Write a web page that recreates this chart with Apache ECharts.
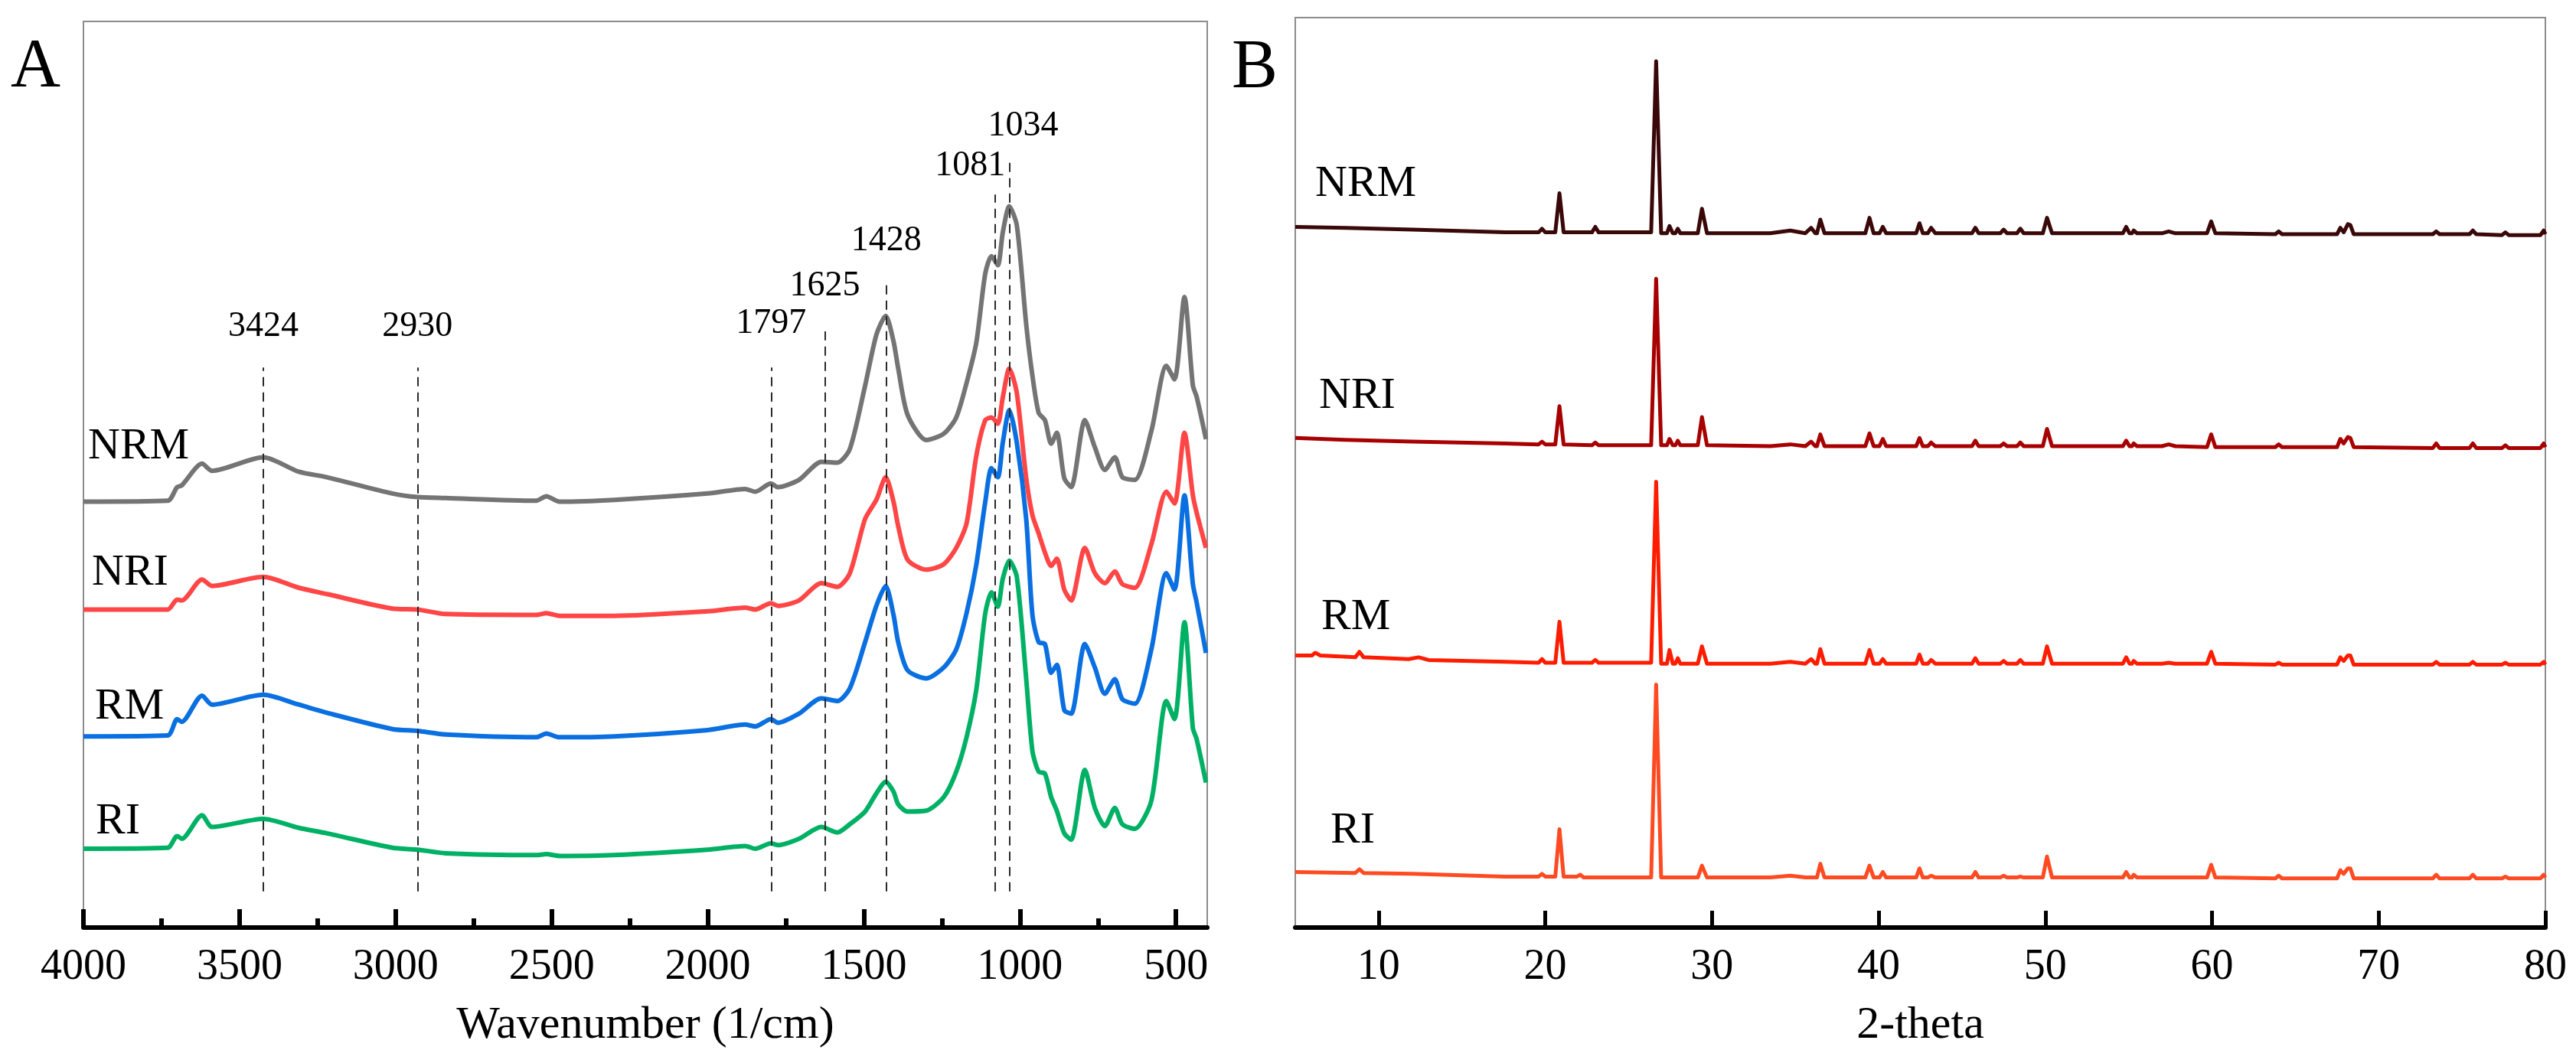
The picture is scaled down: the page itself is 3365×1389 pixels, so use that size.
<!DOCTYPE html>
<html>
<head>
<meta charset="utf-8">
<title>FTIR / XRD</title>
<script src="https://cdn.jsdelivr.net/npm/echarts/dist/echarts.min.js"></script>
<style>
  html, body { margin: 0; padding: 0; background: #fff; }
  #chart { width: 3365px; height: 1389px; }
</style>
</head>
<body>
<div id="chart"></div>
<script>
// ---- Panel A: FTIR, wavenumber (1/cm) and stacked absorbance (a.u.) ----
let ftirWavenumber = [4000, 3730, 3700, 3685, 3620, 3588, 3424, 3310, 3220, 3010, 2930, 2840, 2550, 2517, 2475, 2300,
  2000, 1880, 1848, 1798, 1775, 1708, 1636, 1585, 1545, 1496, 1460, 1430, 1405, 1390, 1360, 1300, 1244, 1204, 1171,
  1140, 1111, 1091, 1071, 1055, 1034, 1010, 980, 960, 940, 920, 900, 882, 858, 836, 792, 760, 728, 696, 672, 632,
  579, 531, 505, 473, 446, 434, 404]
let ftirNRM = [47.0, 47.1, 48.6, 48.8, 51.2, 50.4, 51.9, 50.3, 49.7, 47.9, 47.5, 47.4, 47.1, 47.6, 47.0, 47.2,
  47.9, 48.4, 48.1, 49.0, 48.6, 49.4, 51.4, 51.3, 52.8, 59.8, 65.4, 67.5, 64.7, 61.7, 56.6, 53.8, 54.5, 56.3, 60.1,
  64.5, 72.2, 74.1, 73.1, 76.7, 79.6, 77.5, 66.6, 60.9, 56.8, 56.0, 53.4, 54.6, 49.6, 48.6, 56.0, 53.0, 50.5, 51.9, 49.7, 49.4,
  54.8, 62.0, 60.5, 69.6, 59.8, 58.6, 53.9]
let ftirNRI = [35.1, 35.1, 36.2, 36.1, 38.4, 37.7, 38.7, 37.5, 36.8, 35.2, 35.1, 34.6, 34.5, 34.7, 34.4, 34.4,
  34.9, 35.3, 35.1, 35.8, 35.5, 36.1, 38.0, 37.6, 39.1, 45.1, 47.2, 49.7, 47.0, 44.3, 40.6, 39.5, 40.1, 41.9, 44.6,
  52.0, 56.0, 56.3, 55.6, 58.5, 61.7, 59.0, 49.6, 45.5, 43.5, 41.4, 39.9, 40.7, 37.3, 36.1, 41.9, 39.1, 38.0, 39.3, 37.9, 37.5,
  42.3, 48.1, 46.8, 54.6, 47.7, 45.8, 41.9]
let ftirRM = [21.1, 21.2, 23.0, 22.7, 25.6, 24.6, 25.7, 24.6, 23.7, 21.9, 21.7, 21.3, 21.0, 21.4, 21.0, 21.1,
  21.8, 22.4, 22.2, 23.0, 22.6, 23.6, 25.3, 25.0, 26.4, 31.5, 35.5, 37.7, 34.5, 31.5, 28.4, 27.5, 28.7, 30.7, 34.7,
  40.0, 47.0, 50.7, 49.7, 53.5, 57.1, 53.5, 45.1, 34.5, 31.5, 31.3, 28.1, 29.0, 24.0, 23.6, 31.3, 28.7, 25.8, 27.4, 25.2, 24.7,
  30.7, 39.1, 37.3, 47.7, 37.9, 35.9, 30.3]
let ftirRI = [8.7, 8.8, 10.1, 9.8, 12.4, 11.1, 12.0, 11.0, 10.4, 8.8, 8.6, 8.2, 8.0, 8.1, 7.9, 8.0,
  8.6, 9.0, 8.7, 9.3, 9.1, 9.8, 11.1, 10.5, 11.4, 12.8, 14.8, 16.1, 15.0, 13.6, 12.8, 12.9, 14.4, 17.2, 21.0,
  26.2, 34.7, 37.0, 35.4, 38.5, 40.5, 38.7, 27.5, 19.5, 17.2, 17.0, 14.4, 12.9, 10.4, 9.7, 17.4, 13.2, 11.2, 13.2, 11.4, 10.9,
  14.0, 25.0, 23.0, 33.7, 22.0, 20.8, 16.0]

// marked bands: dashed guide from bandBottom up to bandTop
let bandWavenumber = [3424, 2930, 1797, 1625, 1428, 1081, 1034]
let bandTop = [61.8, 61.8, 61.8, 65.8, 71.5, 80.9, 84.8]
let bandBottom = 4.0

// ---- Panel B: XRD, [2-theta, stacked intensity (a.u.)] ----
let xrdNRM = [[5, 77.0], [8, 76.9], [12, 76.7], [17.6, 76.4], [19.6, 76.4], [19.8, 76.8], [20.0, 76.4], [20.6, 76.4],
  [20.85, 80.7], [21.1, 76.4], [22.8, 76.4], [23.0, 77.0], [23.2, 76.4], [26.35, 76.4], [26.65, 95.2], [26.95, 76.3],
  [27.3, 76.3], [27.45, 77.1], [27.65, 76.3], [27.8, 76.3], [27.95, 76.8], [28.1, 76.3], [29.15, 76.3], [29.4, 79.0],
  [29.7, 76.3], [33.5, 76.3], [34.7, 76.6], [35.6, 76.3], [35.95, 76.9], [36.2, 76.3], [36.3, 76.3], [36.5, 77.8],
  [36.75, 76.3], [39.2, 76.3], [39.45, 78.0], [39.7, 76.3], [40.05, 76.3], [40.25, 77.0], [40.45, 76.3], [42.25, 76.3],
  [42.45, 77.4], [42.65, 76.3], [42.95, 76.3], [43.15, 76.9], [43.4, 76.3], [45.6, 76.3], [45.8, 76.9], [46.0, 76.3],
  [47.3, 76.3], [47.5, 76.7], [47.7, 76.3], [48.3, 76.3], [48.5, 76.8], [48.7, 76.3], [49.85, 76.3], [50.1, 78.0],
  [50.4, 76.3], [54.65, 76.3], [54.85, 77.0], [55.05, 76.3], [55.2, 76.3], [55.3, 76.6], [55.5, 76.3], [57.0, 76.3],
  [57.4, 76.5], [57.8, 76.3], [59.7, 76.3], [59.95, 77.6], [60.2, 76.3], [63.8, 76.2], [64.0, 76.5], [64.2, 76.2],
  [67.5, 76.2], [67.7, 76.9], [67.9, 76.4], [68.15, 77.3], [68.3, 77.2], [68.5, 76.2], [73.25, 76.2], [73.45, 76.5],
  [73.65, 76.2], [75.45, 76.2], [75.65, 76.6], [75.85, 76.2], [77.4, 76.1], [77.6, 76.4], [77.8, 76.1], [79.7, 76.1],
  [79.9, 76.6], [80, 76.2]]
let xrdNRI = [[5, 53.8], [8, 53.6], [12, 53.4], [17.6, 53.2], [19.6, 53.1], [19.8, 53.4], [20.0, 53.1], [20.6, 53.1],
  [20.85, 57.3], [21.1, 53.1], [22.8, 53.0], [23.0, 53.3], [23.2, 53.0], [26.35, 53.0], [26.65, 71.3], [26.95, 53.0],
  [27.3, 53.0], [27.45, 53.7], [27.65, 53.0], [27.8, 53.0], [27.95, 53.5], [28.1, 53.0], [29.15, 53.0], [29.4, 56.1],
  [29.7, 53.0], [33.5, 52.9], [34.7, 53.1], [35.6, 52.9], [35.95, 53.4], [36.2, 52.9], [36.3, 52.9], [36.5, 54.2],
  [36.75, 52.9], [39.2, 52.9], [39.45, 54.3], [39.7, 52.9], [40.05, 52.9], [40.25, 53.7], [40.45, 52.9], [42.25, 52.9],
  [42.45, 53.8], [42.65, 52.9], [42.95, 52.9], [43.15, 53.3], [43.4, 52.9], [45.6, 52.9], [45.8, 53.5], [46.0, 52.9],
  [47.3, 52.9], [47.5, 53.2], [47.7, 52.9], [48.3, 52.9], [48.5, 53.3], [48.7, 52.9], [49.85, 52.9], [50.1, 54.8],
  [50.4, 52.9], [54.65, 52.9], [54.85, 53.5], [55.05, 52.9], [55.2, 52.9], [55.3, 53.2], [55.5, 52.9], [57.0, 52.9],
  [57.4, 53.1], [57.8, 52.9], [59.7, 52.8], [59.95, 54.2], [60.2, 52.8], [63.8, 52.8], [64.0, 53.1], [64.2, 52.8],
  [67.5, 52.8], [67.7, 53.7], [67.9, 53.2], [68.15, 53.9], [68.3, 53.8], [68.5, 52.8], [73.25, 52.7], [73.45, 53.2],
  [73.65, 52.7], [75.45, 52.7], [75.65, 53.2], [75.85, 52.7], [77.4, 52.7], [77.6, 53.0], [77.8, 52.7], [79.7, 52.7],
  [79.9, 53.2], [80, 52.8]]
let xrdRM = [[5, 29.9], [6.0, 29.9], [6.2, 30.2], [6.5, 29.9], [8.6, 29.7], [8.85, 30.3], [9.1, 29.7], [11.8, 29.5],
  [12.4, 29.7], [13.0, 29.4], [17.6, 29.2], [19.6, 29.1], [19.8, 29.5], [20.0, 29.1], [20.6, 29.1], [20.85, 33.6],
  [21.1, 29.1], [22.8, 29.1], [23.0, 29.4], [23.2, 29.1], [26.35, 29.1], [26.65, 49.0], [26.95, 29.0], [27.3, 29.0],
  [27.45, 30.5], [27.65, 29.0], [27.8, 29.0], [27.95, 29.6], [28.1, 29.0], [29.15, 29.0], [29.4, 30.9], [29.7, 29.0],
  [33.5, 29.0], [34.7, 29.2], [35.6, 29.0], [35.95, 29.5], [36.2, 29.0], [36.3, 29.0], [36.5, 30.6], [36.75, 29.0],
  [39.2, 29.0], [39.45, 30.5], [39.7, 29.0], [40.05, 29.0], [40.25, 29.5], [40.45, 29.0], [42.25, 29.0], [42.45, 30.0],
  [42.65, 29.0], [42.95, 29.0], [43.15, 29.4], [43.4, 29.0], [45.6, 29.0], [45.8, 29.6], [46.0, 29.0], [47.3, 29.0],
  [47.5, 29.3], [47.7, 29.0], [48.3, 29.0], [48.5, 29.4], [48.7, 29.0], [49.85, 29.0], [50.1, 30.9], [50.4, 29.0],
  [54.65, 29.0], [54.85, 29.7], [55.05, 29.0], [55.2, 29.0], [55.3, 29.3], [55.5, 29.0], [57.0, 29.0], [57.4, 29.1],
  [57.8, 29.0], [59.7, 29.0], [59.95, 30.3], [60.2, 29.0], [63.8, 28.9], [64.0, 29.1], [64.2, 28.9], [67.5, 28.9],
  [67.7, 29.7], [67.9, 29.3], [68.15, 29.9], [68.3, 29.9], [68.5, 28.9], [73.25, 28.9], [73.45, 29.2], [73.65, 28.9],
  [75.45, 28.9], [75.65, 29.2], [75.85, 28.9], [77.4, 28.9], [77.6, 29.1], [77.8, 28.9], [79.7, 28.9], [79.9, 29.2],
  [80, 28.9]]
let xrdRI = [[5, 6.1], [8.6, 6.0], [8.85, 6.4], [9.1, 6.0], [12, 5.9], [17.6, 5.6], [19.6, 5.6], [19.8, 5.9],
  [20.0, 5.6], [20.6, 5.6], [20.85, 10.8], [21.1, 5.6], [21.9, 5.6], [22.1, 5.8], [22.3, 5.5], [26.35, 5.5],
  [26.65, 26.7], [26.95, 5.5], [29.15, 5.5], [29.4, 6.8], [29.7, 5.5], [33.5, 5.5], [34.7, 5.7], [35.6, 5.5],
  [36.3, 5.5], [36.5, 7.0], [36.75, 5.5], [39.2, 5.5], [39.45, 6.8], [39.7, 5.5], [40.05, 5.5], [40.25, 6.1],
  [40.45, 5.5], [42.25, 5.5], [42.45, 6.5], [42.65, 5.5], [42.95, 5.5], [43.15, 5.7], [43.4, 5.5], [45.6, 5.5],
  [45.8, 6.1], [46.0, 5.5], [47.3, 5.5], [47.5, 5.7], [47.7, 5.5], [48.3, 5.5], [48.5, 5.6], [48.7, 5.5],
  [49.85, 5.5], [50.1, 7.8], [50.4, 5.5], [54.65, 5.5], [54.85, 6.1], [55.05, 5.5], [55.2, 5.5], [55.3, 5.8],
  [55.5, 5.5], [59.7, 5.5], [59.95, 6.9], [60.2, 5.5], [63.8, 5.4], [64.0, 5.7], [64.2, 5.4], [67.5, 5.4],
  [67.7, 6.3], [67.9, 5.9], [68.15, 6.5], [68.3, 6.5], [68.5, 5.4], [73.25, 5.4], [73.45, 5.8], [73.65, 5.4],
  [75.45, 5.4], [75.65, 5.8], [75.85, 5.4], [77.4, 5.4], [77.6, 5.6], [77.8, 5.4], [79.7, 5.4], [79.9, 5.8], [80, 5.5]]

let ftirMajorTicks = [500, 1000, 1500, 2000, 2500, 3000, 3500, 4000]
let ftirMinorTicks = [750, 1250, 1750, 2250, 2750, 3250, 3750]
let xrdTicks = [10, 20, 30, 40, 50, 60, 70, 80]

let serif = '"Liberation Serif", "Times New Roman", "DejaVu Serif", serif'
let ftirColors = { NRM: '#747474', NRI: '#ff4646', RM: '#0a6fe0', RI: '#00b165' }
let xrdColors = { NRM: '#3a0808', NRI: '#a80000', RM: '#ff1c00', RI: '#ff4a22' }

function pairs(xs, ys) {
  return xs.map((x, i) => [x, ys[i]])
}

function ftirSeries(name, values, extra) {
  let s = {
    name: name,
    type: 'line',
    xAxisIndex: 0,
    yAxisIndex: 0,
    data: pairs(ftirWavenumber, values),
    showSymbol: false,
    smooth: 0.25,
    lineStyle: { color: ftirColors[name], width: 6 },
    z: 3
  }
  return Object.assign(s, extra || {})
}

function xrdSeries(name, data) {
  return {
    name: name,
    type: 'line',
    xAxisIndex: 2,
    yAxisIndex: 1,
    data: data,
    showSymbol: false,
    lineStyle: { color: xrdColors[name], width: 5, join: 'round' },
    z: 3
  }
}

// label nudges so 1081 sits left of its line and 1034 right of its line
let bandLabelTweak = {
  1081: { distance: 14, padding: [0, 64, 0, 0] },
  1034: { distance: 20, padding: [0, 0, 0, 36] },
  1428: { distance: 28 },
  1625: { distance: 36 },
  1797: { distance: 34 }
}

let bandLines = {
  symbol: ['none', 'none'],
  silent: true,
  animation: false,
  lineStyle: { color: '#2a2a2a', type: [12, 8], width: 2 },
  label: {
    show: true,
    position: 'end',
    formatter: '{b}',
    color: '#000',
    fontFamily: serif,
    fontSize: 46,
    distance: 30
  },
  data: bandWavenumber.map((wn, i) => [
    { name: String(wn), coord: [wn, bandBottom], label: bandLabelTweak[wn] || {} },
    { coord: [wn, bandTop[i]] }
  ])
}

function textItem(txt, x, y, size) {
  return {
    type: 'text',
    x: x,
    y: y,
    style: {
      text: txt,
      fill: '#000',
      font: size + 'px ' + serif,
      align: 'left', verticalAlign: 'middle',
      textAlign: 'left', textVerticalAlign: 'middle'
    }
  }
}

// plain numbers, no thousands separator
let tickLabel = { color: '#000', fontFamily: serif, fontSize: 56, formatter: v => String(v) }

let option = {
  animation: false,
  backgroundColor: '#fff',
  grid: [
    { left: 109, top: 28, width: 1468, height: 1184, show: true, borderColor: '#8c8c8c', borderWidth: 2, containLabel: false },
    { left: 1692, top: 23, width: 1633, height: 1189, show: true, borderColor: '#8c8c8c', borderWidth: 2, containLabel: false }
  ],
  xAxis: [
    {
      type: 'value', gridIndex: 0, min: 400, max: 4000, inverse: true, position: 'bottom',
      axisLine: { onZero: false, lineStyle: { color: '#000', width: 6 } },
      axisTick: { inside: true, length: 24, lineStyle: { color: '#000', width: 6 }, customValues: ftirMajorTicks },
      axisLabel: Object.assign({ margin: 24, customValues: ftirMajorTicks }, tickLabel),
      splitLine: { show: false },
      name: 'Wavenumber (1/cm)', nameLocation: 'middle', nameGap: 98,
      nameTextStyle: { color: '#000', fontFamily: serif, fontSize: 60 }
    },
    {
      // minor ticks only
      type: 'value', gridIndex: 0, min: 400, max: 4000, inverse: true, position: 'bottom',
      axisLine: { show: false, onZero: false },
      axisTick: { inside: true, length: 12, lineStyle: { color: '#000', width: 6 }, customValues: ftirMinorTicks },
      axisLabel: { show: false },
      splitLine: { show: false }
    },
    {
      type: 'value', gridIndex: 1, min: 5, max: 80, position: 'bottom',
      axisLine: { onZero: false, lineStyle: { color: '#000', width: 6 } },
      axisTick: { inside: true, length: 22, lineStyle: { color: '#000', width: 5 }, customValues: xrdTicks },
      axisLabel: Object.assign({ margin: 24, customValues: xrdTicks }, tickLabel),
      splitLine: { show: false },
      name: '2-theta', nameLocation: 'middle', nameGap: 98,
      nameTextStyle: { color: '#000', fontFamily: serif, fontSize: 60 }
    }
  ],
  yAxis: [
    { type: 'value', gridIndex: 0, min: 0, max: 100, show: false },
    { type: 'value', gridIndex: 1, min: 0, max: 100, show: false }
  ],
  series: [
    ftirSeries('NRM', ftirNRM, { markLine: bandLines }),
    ftirSeries('NRI', ftirNRI),
    ftirSeries('RM', ftirRM),
    ftirSeries('RI', ftirRI),
    xrdSeries('NRM', xrdNRM),
    xrdSeries('NRI', xrdNRI),
    xrdSeries('RM', xrdRM),
    xrdSeries('RI', xrdRI)
  ],
  graphic: [
    textItem('A', 14, 89, 90),
    textItem('B', 1609, 90, 90),
    textItem('NRM', 115, 584, 58),
    textItem('NRI', 120, 749, 58),
    textItem('RM', 124, 924, 58),
    textItem('RI', 125, 1074, 58),
    textItem('NRM', 1718, 241, 58),
    textItem('NRI', 1723, 518, 58),
    textItem('RM', 1726, 807, 58),
    textItem('RI', 1738, 1086, 58)
  ]
}

let chart = echarts.init(document.getElementById('chart'), null, { renderer: 'canvas' })
chart.setOption(option)
window.addEventListener('resize', () => { chart.resize() })
</script>
</body>
</html>
